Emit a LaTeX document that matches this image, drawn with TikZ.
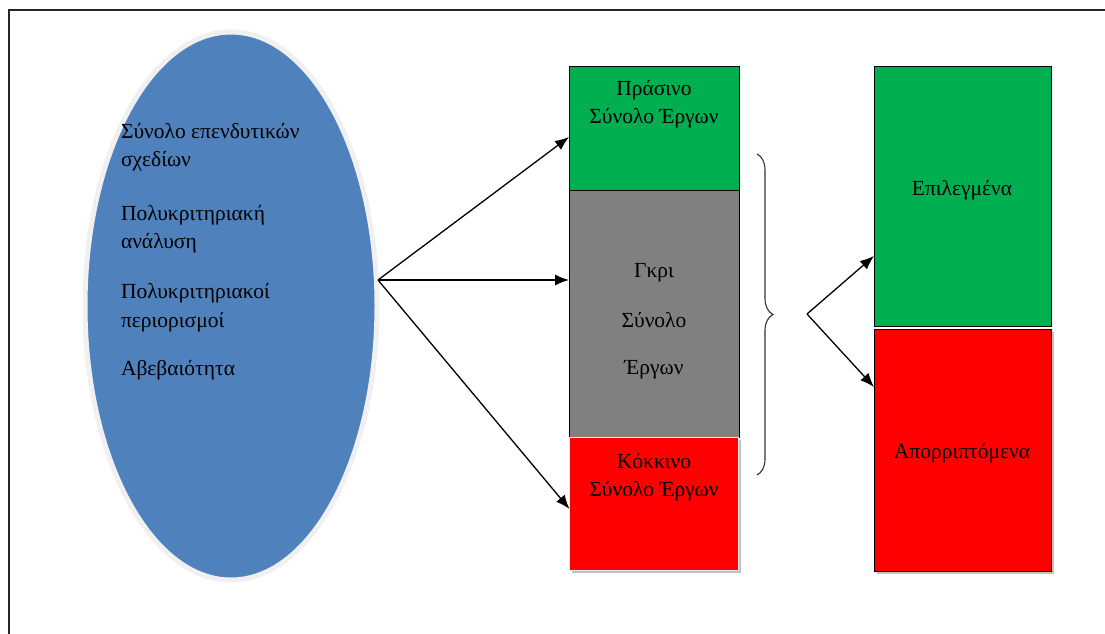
\documentclass[tikz,border=0pt]{standalone}
\usepackage{fontspec}
\setmainfont{Liberation Serif}
\usetikzlibrary{arrows.meta,decorations.pathreplacing,shapes.geometric}
\definecolor{ovalblue}{HTML}{4F81BD}
\definecolor{setgreen}{HTML}{00B050}
\definecolor{setgrey}{HTML}{808080}
\definecolor{setred}{HTML}{FF0000}
\begin{document}
\begin{tikzpicture}[x=1pt,y=-1pt,
  every node/.style={inner sep=0pt,outer sep=0pt},
  lbl/.style={font=\fontsize{21.5}{24}\selectfont,text=black},
  setbox/.style={draw=black,line width=0.9pt,anchor=north west},
  shadowbox/.style={fill=black!40,opacity=0.6,anchor=north west},
  link/.style={line width=1.3pt,-{Latex[length=14pt,width=11pt]}}]
\useasboundingbox (0,0) rectangle (1105,634);
\fill[white] (0,0) rectangle (1105,634);
% frame edges
\draw[line width=1.4pt,black!85] (9,634) -- (9,10) -- (1105,10);

% oval with its pale rim
\node[ellipse,draw=black!6,line width=5pt,fill=ovalblue,
  minimum width=292pt,minimum height=548pt] (oval) at (231,306) {};
\node[lbl,anchor=base west] (t1) at (121,138) {Σύνολο επενδυτικών};
\node[lbl,anchor=base west] (t2) at (121,166) {σχεδίων};
\node[lbl,anchor=base west] (t3) at (121,220) {Πολυκριτηριακή};
\node[lbl,anchor=base west] (t4) at (121,248) {ανάλυση};
\node[lbl,anchor=base west] (t5) at (121,298) {Πολυκριτηριακοί};
\node[lbl,anchor=base west] (t6) at (121,327) {περιορισμοί};
\node[lbl,anchor=base west] (t7) at (121,375) {Αβεβαιότητα};

% middle column
\node[shadowbox,minimum width=169pt,minimum height=133pt] (rsh) at (572,440) {};
\node[setbox,fill=setgreen,minimum width=170pt,minimum height=124pt] (green) at (569,66) {};
\node[setbox,fill=setgrey,minimum width=170pt,minimum height=247pt] (grey) at (569,190) {};
\node[anchor=north west,fill=setred,draw=black!8,line width=0.8pt,
  minimum width=169pt,minimum height=133pt] (red) at (569.5,437) {};
\node[lbl,anchor=base] (g1) at (654,95) {Πράσινο};
\node[lbl,anchor=base] (g2) at (654,123) {Σύνολο Έργων};
\node[lbl,anchor=base] (m1) at (654,277) {Γκρι};
\node[lbl,anchor=base] (m2) at (654,327) {Σύνολο};
\node[lbl,anchor=base] (m3) at (654,374) {Έργων};
\node[lbl,anchor=base] (r1) at (654,468) {Κόκκινο};
\node[lbl,anchor=base] (r2) at (654,496) {Σύνολο Έργων};

% right column
\node[shadowbox,minimum width=177pt,minimum height=242pt] (rsh2) at (877,332) {};
\node[setbox,fill=setgreen,minimum width=177pt,minimum height=260pt] (sel) at (874,66) {};
\node[setbox,fill=setred,minimum width=177pt,minimum height=242pt] (rej) at (874,329) {};
\node[lbl] (s1) at (962,190) {Επιλεγμένα};
\node[lbl] (s2) at (962,453) {Απορριπτόμενα};

% connectors
\coordinate (src) at (378,280);
\draw[link] (src) -- ([yshift=-9pt]green.west);
\draw[link] (src) -- ([yshift=33.5pt]grey.west);
\draw[link] (src) -- ([yshift=-5.5pt]red.west);

\coordinate (bt) at (757,154);
\coordinate (bb) at (757,475);
\draw[black!80,line width=1.1pt,decorate,decoration={brace,amplitude=16pt}] (bt) -- (bb);

\coordinate (fork) at (807,314);
\draw[link] (fork) -- ([yshift=-60pt]sel.west);
\draw[link] (fork) -- ([yshift=63pt]rej.west);
\end{tikzpicture}
\end{document}
